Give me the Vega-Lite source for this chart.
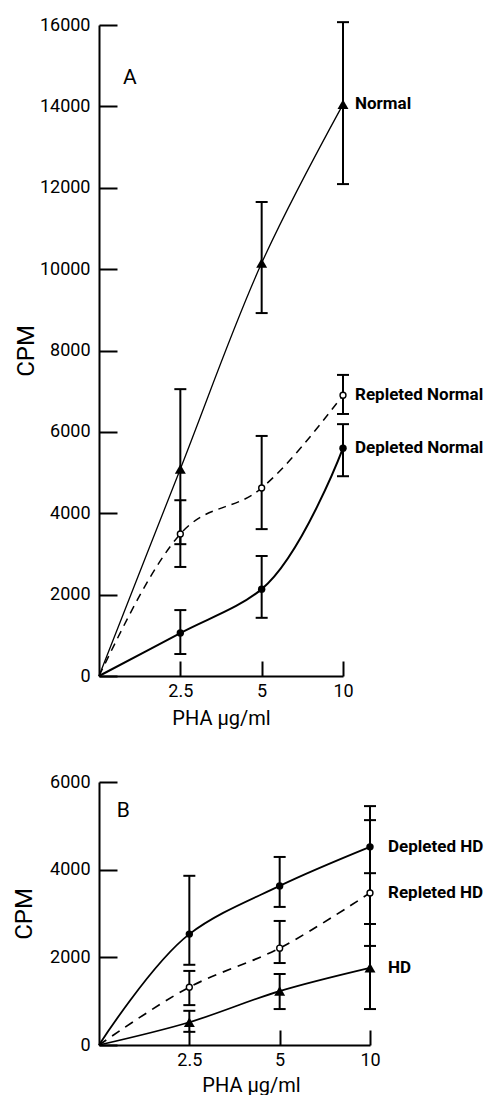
{
  "$schema": "https://vega.github.io/schema/vega-lite/v6.json",
  "background": "white",
  "padding": {"left": 12, "top": 16, "right": 0, "bottom": 0},
  "spacing": 45,
  "datasets": {
    "obs": [
      {"panel": "A", "series": "Normal", "pos": 0, "cpm": 0},
      {"panel": "A", "series": "Normal", "pos": 1, "cpm": 5090, "lo": 3240, "hi": 7050},
      {"panel": "A", "series": "Normal", "pos": 2, "cpm": 10150, "lo": 8920, "hi": 11650},
      {"panel": "A", "series": "Normal", "pos": 3, "cpm": 14050, "lo": 12090, "hi": 16070},
      {"panel": "A", "series": "Repleted Normal", "pos": 0, "cpm": 0},
      {"panel": "A", "series": "Repleted Normal", "pos": 1, "cpm": 3490, "lo": 2680, "hi": 4320},
      {"panel": "A", "series": "Repleted Normal", "pos": 2, "cpm": 4620, "lo": 3610, "hi": 5900},
      {"panel": "A", "series": "Repleted Normal", "pos": 3, "cpm": 6900, "lo": 6440, "hi": 7400},
      {"panel": "A", "series": "Depleted Normal", "pos": 0, "cpm": 0},
      {"panel": "A", "series": "Depleted Normal", "pos": 1, "cpm": 1055, "lo": 540, "hi": 1620},
      {"panel": "A", "series": "Depleted Normal", "pos": 2, "cpm": 2135, "lo": 1430, "hi": 2950},
      {"panel": "A", "series": "Depleted Normal", "pos": 3, "cpm": 5600, "lo": 4910, "hi": 6190},
      {"panel": "B", "series": "Depleted HD", "pos": 0, "cpm": 0},
      {"panel": "B", "series": "Depleted HD", "pos": 1, "cpm": 2530, "lo": 1830, "hi": 3860},
      {"panel": "B", "series": "Depleted HD", "pos": 2, "cpm": 3630, "lo": 3150, "hi": 4290},
      {"panel": "B", "series": "Depleted HD", "pos": 3, "cpm": 4520, "lo": 3920, "hi": 5450},
      {"panel": "B", "series": "Repleted HD", "pos": 0, "cpm": 0},
      {"panel": "B", "series": "Repleted HD", "pos": 1, "cpm": 1320, "lo": 910, "hi": 1690},
      {"panel": "B", "series": "Repleted HD", "pos": 2, "cpm": 2210, "lo": 1870, "hi": 2830},
      {"panel": "B", "series": "Repleted HD", "pos": 3, "cpm": 3470, "lo": 2260, "hi": 5130},
      {"panel": "B", "series": "HD", "pos": 0, "cpm": 0},
      {"panel": "B", "series": "HD", "pos": 1, "cpm": 520, "lo": 300, "hi": 780},
      {"panel": "B", "series": "HD", "pos": 2, "cpm": 1230, "lo": 820, "hi": 1620},
      {"panel": "B", "series": "HD", "pos": 3, "cpm": 1760, "lo": 820, "hi": 2760}
    ],
    "letters": [
      {"panel": "A", "letter": "A", "pos": 0.38, "cpm": 14690},
      {"panel": "B", "letter": "B", "pos": 0.27, "cpm": 5340}
    ]
  },
  "config": {
    "view": {"stroke": null},
    "font": "Roboto",
    "axis": {
      "domainColor": "black", "domainWidth": 2, "tickColor": "black", "tickWidth": 2,
      "labelColor": "black", "titleColor": "black", "grid": false,
      "labelFont": "Roboto", "titleFont": "Roboto", "titleFontWeight": "normal", "labelFontSize": 18
    },
    "axisY": {"tickSize": -18, "labelPadding": 27, "minExtent": 50, "maxExtent": 50, "titleFontSize": 24},
    "axisX": {"tickSize": -15, "labelPadding": 21, "minExtent": 20, "maxExtent": 20, "titleFontSize": 20, "titlePadding": 12, "labelFlush": false},
    "text": {"font": "Roboto", "color": "black"}
  },
  "vconcat": [
    {
      "width": 244,
      "height": 651,
      "data": {"name": "obs"},
      "transform": [{"filter": "datum.panel == 'A'"}],
      "encoding": {
        "x": {"field": "pos", "type": "quantitative", "title": "PHA μg/ml",
              "scale": {"domain": [0, 3], "nice": false, "zero": false},
              "axis": {"values": [1, 2, 3], "labelExpr": "datum.value == 1 ? '2.5' : datum.value == 2 ? '5' : '10'"}},
        "y": {"field": "cpm", "type": "quantitative", "title": "CPM",
              "scale": {"domain": [0, 16000], "nice": false},
              "axis": {"values": [0, 2000, 4000, 6000, 8000, 10000, 12000, 14000, 16000], "format": "d", "titlePadding": 11}}
      },
      "layer": [
        {
          "transform": [{"filter": "datum.series == 'Normal'"}],
          "mark": {"type": "line", "interpolate": "catmull-rom", "color": "black", "strokeWidth": 1.3}
        },
        {
          "transform": [{"filter": "datum.series == 'Repleted Normal'"}],
          "mark": {"type": "line", "interpolate": "monotone", "color": "black", "strokeWidth": 1.5, "strokeDash": [8, 6]}
        },
        {
          "transform": [{"filter": "datum.series == 'Depleted Normal'"}],
          "mark": {"type": "line", "interpolate": "catmull-rom", "tension": 1, "color": "black", "strokeWidth": 2}
        },
        {
          "transform": [{"filter": "datum.pos > 0"}],
          "mark": {"type": "rule", "color": "black", "strokeWidth": 2},
          "encoding": {
            "y": {"field": "lo", "type": "quantitative", "title": "CPM"},
            "y2": {"field": "hi"}
          }
        },
        {
          "transform": [{"filter": "datum.pos > 0"}],
          "mark": {"type": "tick", "orient": "horizontal", "color": "black", "size": 12, "thickness": 2, "opacity": 1},
          "encoding": {"y": {"field": "lo", "type": "quantitative", "title": "CPM"}}
        },
        {
          "transform": [{"filter": "datum.pos > 0"}],
          "mark": {"type": "tick", "orient": "horizontal", "color": "black", "size": 12, "thickness": 2, "opacity": 1},
          "encoding": {"y": {"field": "hi", "type": "quantitative", "title": "CPM"}}
        },
        {
          "transform": [{"filter": "datum.pos > 0 && datum.series == 'Normal'"}],
          "mark": {"type": "point", "shape": "triangle-up", "filled": true, "color": "black", "size": 120, "opacity": 1}
        },
        {
          "transform": [{"filter": "datum.pos > 0 && datum.series == 'Depleted Normal'"}],
          "mark": {"type": "point", "shape": "circle", "filled": true, "color": "black", "size": 55, "opacity": 1}
        },
        {
          "transform": [{"filter": "datum.pos > 0 && datum.series == 'Repleted Normal'"}],
          "mark": {"type": "point", "shape": "circle", "fill": "white", "stroke": "black", "strokeWidth": 1.4, "size": 35, "opacity": 1}
        },
        {
          "transform": [{"filter": "datum.pos == 3"}],
          "mark": {"type": "text", "align": "left", "baseline": "middle", "dx": 12, "fontWeight": "bold", "fontSize": 17},
          "encoding": {"text": {"field": "series"}}
        },
        {
          "data": {"name": "letters"},
          "transform": [{"filter": "datum.panel == 'A'"}],
          "mark": {"type": "text", "align": "center", "baseline": "middle", "fontSize": 21},
          "encoding": {"text": {"field": "letter"}}
        }
      ]
    },
    {
      "width": 271,
      "height": 263,
      "data": {"name": "obs"},
      "transform": [{"filter": "datum.panel == 'B'"}],
      "encoding": {
        "x": {"field": "pos", "type": "quantitative", "title": "PHA μg/ml",
              "scale": {"domain": [0, 3], "nice": false, "zero": false},
              "axis": {"values": [1, 2, 3], "labelExpr": "datum.value == 1 ? '2.5' : datum.value == 2 ? '5' : '10'", "titleX": 152, "titlePadding": 10}},
        "y": {"field": "cpm", "type": "quantitative", "title": "CPM",
              "scale": {"domain": [0, 6000], "nice": false},
              "axis": {"values": [0, 2000, 4000, 6000], "format": "d", "titlePadding": 13}}
      },
      "layer": [
        {
          "transform": [{"filter": "datum.series == 'Depleted HD'"}],
          "mark": {"type": "line", "interpolate": "catmull-rom", "tension": 1, "color": "black", "strokeWidth": 1.8}
        },
        {
          "transform": [{"filter": "datum.series == 'Repleted HD'"}],
          "mark": {"type": "line", "interpolate": "catmull-rom", "tension": 1, "color": "black", "strokeWidth": 1.7, "strokeDash": [9, 7]}
        },
        {
          "transform": [{"filter": "datum.series == 'HD'"}],
          "mark": {"type": "line", "interpolate": "catmull-rom", "tension": 1, "color": "black", "strokeWidth": 1.7}
        },
        {
          "transform": [{"filter": "datum.pos > 0"}],
          "mark": {"type": "rule", "color": "black", "strokeWidth": 2},
          "encoding": {
            "y": {"field": "lo", "type": "quantitative", "title": "CPM"},
            "y2": {"field": "hi"}
          }
        },
        {
          "transform": [{"filter": "datum.pos > 0"}],
          "mark": {"type": "tick", "orient": "horizontal", "color": "black", "size": 12, "thickness": 2, "opacity": 1},
          "encoding": {"y": {"field": "lo", "type": "quantitative", "title": "CPM"}}
        },
        {
          "transform": [{"filter": "datum.pos > 0"}],
          "mark": {"type": "tick", "orient": "horizontal", "color": "black", "size": 12, "thickness": 2, "opacity": 1},
          "encoding": {"y": {"field": "hi", "type": "quantitative", "title": "CPM"}}
        },
        {
          "transform": [{"filter": "datum.pos > 0 && datum.series == 'HD'"}],
          "mark": {"type": "point", "shape": "triangle-up", "filled": true, "color": "black", "size": 120, "opacity": 1}
        },
        {
          "transform": [{"filter": "datum.pos > 0 && datum.series == 'Depleted HD'"}],
          "mark": {"type": "point", "shape": "circle", "filled": true, "color": "black", "size": 55, "opacity": 1}
        },
        {
          "transform": [{"filter": "datum.pos > 0 && datum.series == 'Repleted HD'"}],
          "mark": {"type": "point", "shape": "circle", "fill": "white", "stroke": "black", "strokeWidth": 1.4, "size": 35, "opacity": 1}
        },
        {
          "transform": [{"filter": "datum.pos == 3"}],
          "mark": {"type": "text", "align": "left", "baseline": "middle", "dx": 18, "fontWeight": "bold", "fontSize": 17},
          "encoding": {"text": {"field": "series"}}
        },
        {
          "data": {"name": "letters"},
          "transform": [{"filter": "datum.panel == 'B'"}],
          "mark": {"type": "text", "align": "center", "baseline": "middle", "fontSize": 21},
          "encoding": {"text": {"field": "letter"}}
        }
      ]
    }
  ]
}
